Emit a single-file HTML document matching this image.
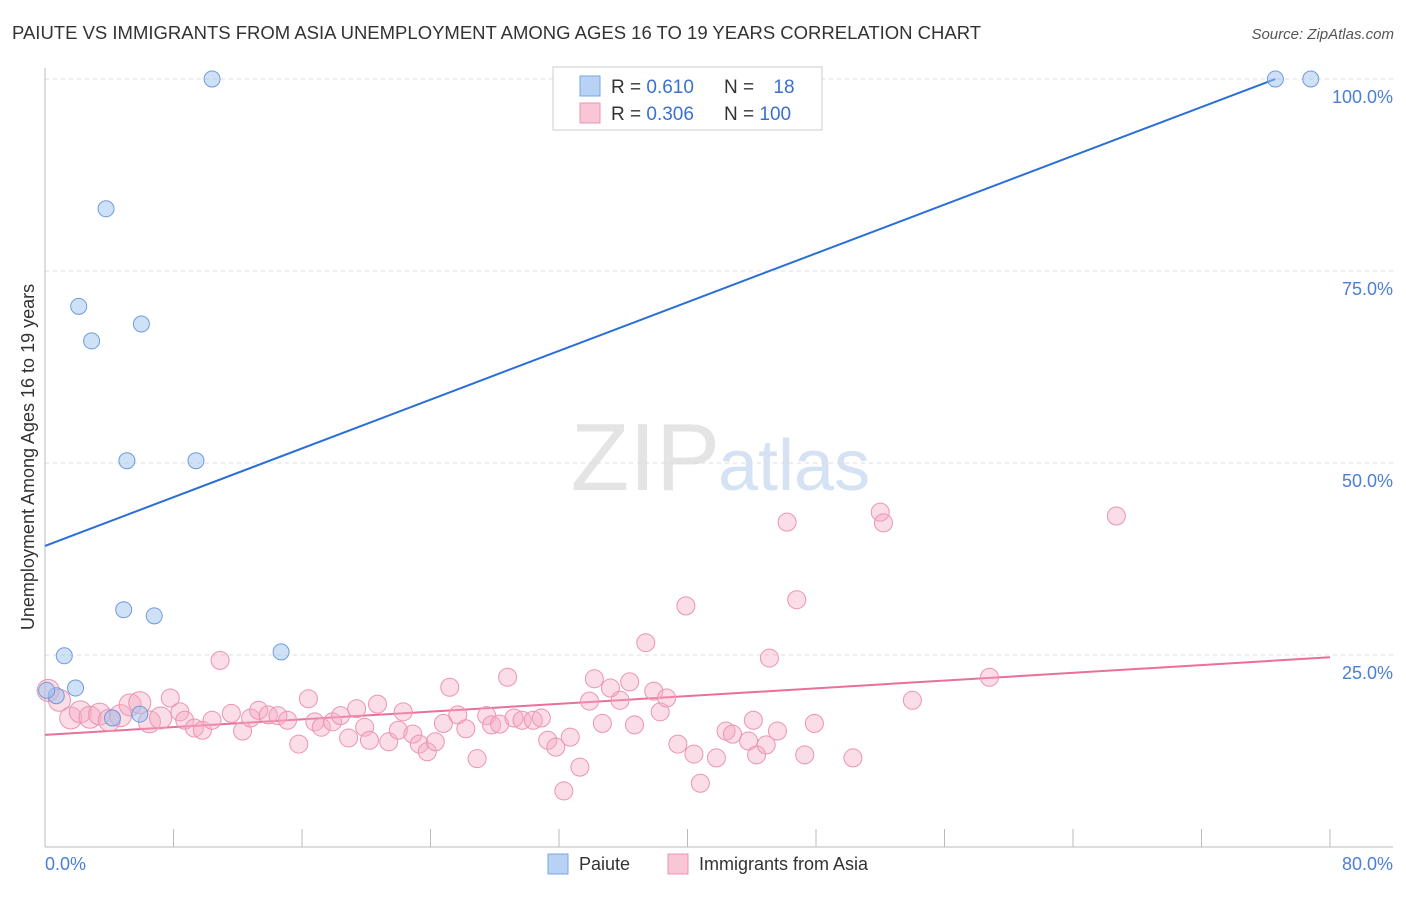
<!DOCTYPE html>
<html><head><meta charset="utf-8"><style>
body{margin:0;background:#fff;font-family:"Liberation Sans",sans-serif;}
svg text{font-family:"Liberation Sans",sans-serif;}
</style></head><body>
<svg id="chart" width="1406" height="892">
<text x="12" y="39" font-size="18.5" fill="#333">PAIUTE VS IMMIGRANTS FROM ASIA UNEMPLOYMENT AMONG AGES 16 TO 19 YEARS CORRELATION CHART</text>
<text x="1394" y="39" font-size="15" fill="#555" text-anchor="end" font-style="italic">Source: ZipAtlas.com</text>
<text x="720" y="490" font-size="96" fill="#e4e4e4" text-anchor="end" font-family="Liberation Serif">ZIP</text>
<text x="718" y="490" font-size="72" fill="#d4e2f4">atlas</text>
<g id="grid"></g><g id="axes"></g><g id="lines"></g><g id="pts"></g>
<text transform="translate(34,457) rotate(-90)" font-size="18" fill="#333" text-anchor="middle">Unemployment Among Ages 16 to 19 years</text>
<text x="45" y="870" font-size="18" fill="#4a7fd4">0.0%</text>
<text x="1393" y="870" font-size="18" fill="#4a7fd4" text-anchor="end">80.0%</text>
<g>
<rect x="553" y="67" width="269" height="63" fill="#fff" stroke="#ccc"/>
<rect x="580" y="76" width="20" height="20" fill="#b8d2f5" stroke="#7aa6e6"/>
<rect x="580" y="103" width="20" height="20" fill="#f9c6d6" stroke="#ec94b0"/>
<text x="611" y="93" font-size="19" fill="#333">R = <tspan fill="#3a70d0">0.610</tspan></text>
<text x="724" y="93" font-size="19" fill="#333">N = <tspan fill="#3a70d0" dx="14">18</tspan></text>
<text x="611" y="120" font-size="19" fill="#333">R = <tspan fill="#3a70d0">0.306</tspan></text>
<text x="724" y="120" font-size="19" fill="#333">N = <tspan fill="#3a70d0">100</tspan></text>
</g>
<g>
<rect x="548" y="854" width="20" height="20" fill="#b8d2f5" stroke="#7aa6e6"/>
<text x="579" y="870" font-size="18" fill="#333">Paiute</text>
<rect x="668" y="854" width="20" height="20" fill="#f9c6d6" stroke="#ec94b0"/>
<text x="699" y="870" font-size="18" fill="#333">Immigrants from Asia</text>
</g>
</svg>
<script>
const yTicks=[25,50,75,100];
const yTickLabels=["25.0%","50.0%","75.0%","100.0%"];
const xTicks=[0,8,16,24,32,40,48,56,64,72,80];
const paiuteX=[10.4,3.8,2.1,2.9,6.0,5.1,9.4,4.9,6.8,1.2,1.9,0.7,14.7,4.2,5.9,76.6,78.8,0.1];
const paiuteY=[100,83.1,70.4,65.9,68.1,50.3,50.3,30.9,30.1,24.9,20.7,19.7,25.4,16.8,17.3,100,100,20.4];
const asiaX=[0.2,0.9,1.6,2.2,2.8,3.4,4.0,4.7,5.3,5.9,6.5,7.2,7.8,8.4,8.7,9.3,9.8,10.4,10.9,11.6,12.3,12.8,13.3,13.9,14.5,15.1,15.8,16.4,16.8,17.2,17.9,18.4,18.9,19.4,19.9,20.2,20.7,21.4,22.0,22.3,22.9,23.3,23.8,24.3,24.8,25.2,25.7,26.2,26.9,27.5,27.8,28.3,28.8,29.2,29.7,30.4,30.9,31.3,31.8,32.7,33.3,32.3,33.9,34.2,34.7,35.2,35.8,36.4,36.7,37.4,37.9,38.3,38.7,39.4,39.9,40.4,40.8,41.8,42.4,42.8,43.8,44.1,44.3,44.9,45.1,45.6,46.2,46.8,47.3,47.9,50.3,52.0,52.2,54.0,58.8,66.7];
const asiaY=[20.4,19.1,16.8,17.6,16.9,17.3,16.5,17.1,18.5,18.8,16.3,16.8,19.4,17.6,16.5,15.5,15.2,16.5,24.3,17.4,15.1,16.8,17.8,17.2,17.1,16.5,13.4,19.3,16.3,15.6,16.3,17.1,14.2,18.0,15.6,13.9,18.6,13.7,15.2,17.6,14.7,13.4,12.4,13.7,16.1,20.8,17.2,15.4,11.5,17.1,15.9,16.0,22.1,16.8,16.5,16.5,16.8,13.9,13.0,14.3,10.4,7.3,19.0,21.9,16.1,20.7,19.1,21.5,15.9,26.6,20.3,17.6,19.4,13.4,31.4,12.1,8.3,11.6,15.1,14.7,13.8,16.5,12.0,13.3,24.6,15.1,42.3,32.2,12.0,16.1,11.6,43.6,42.2,19.1,22.1,43.1];
const paiuteLine=[[0,39.2],[76.6,100]];
const asiaLine=[[0,14.6],[80,24.7]];
const NS="http://www.w3.org/2000/svg";
const sx=v=>45+v*(1285/80), sy=v=>847-v*7.68;
function mk(t,a,p){const e=document.createElementNS(NS,t);for(const k in a)e.setAttribute(k,a[k]);document.getElementById(p).appendChild(e);return e;}
yTicks.forEach((t,i)=>{
 const l=mk('line',{x1:45,x2:1393,y1:sy(t),y2:sy(t),stroke:'#ddd','stroke-dasharray':'4,4'},'grid');
 
 
 const tx=mk('text',{x:1393,y:sy(t)+24,'font-size':18,fill:'#4a7fd4','text-anchor':'end'},'axes');
 tx.textContent=yTickLabels[i];
 
 
});
const ax=mk('line',{x1:45,x2:45,y1:68,y2:847,stroke:'#bbb'},'axes');


const bx=mk('line',{x1:45,x2:1393,y1:847,y2:847,stroke:'#bbb'},'axes');


xTicks.forEach(t=>{
 const l=mk('line',{x1:sx(t),x2:sx(t),y1:829,y2:847,stroke:'#bbb'},'axes');
 
 
});
asiaX.forEach((x,i)=>{
 const c=mk('circle',{cx:sx(x),cy:sy(asiaY[i]),r:i<12?11:9,fill:'rgba(246,170,195,0.4)',stroke:'#ec94b0','stroke-width':1},'pts');
 
 
});
paiuteX.forEach((x,i)=>{
 const c=mk('circle',{cx:sx(x),cy:sy(paiuteY[i]),r:8,fill:'rgba(160,195,240,0.5)',stroke:'#6f9bdc','stroke-width':1},'pts');
 
 
});
const pl=mk('line',{x1:sx(paiuteLine[0][0]),y1:sy(paiuteLine[0][1]),x2:sx(paiuteLine[1][0]),y2:sy(paiuteLine[1][1]),stroke:'#2b6fd6','stroke-width':2},'lines');


const al=mk('line',{x1:sx(asiaLine[0][0]),y1:sy(asiaLine[0][1]),x2:sx(asiaLine[1][0]),y2:sy(asiaLine[1][1]),stroke:'#e8709a','stroke-width':2},'lines');


</script>
</body></html>
